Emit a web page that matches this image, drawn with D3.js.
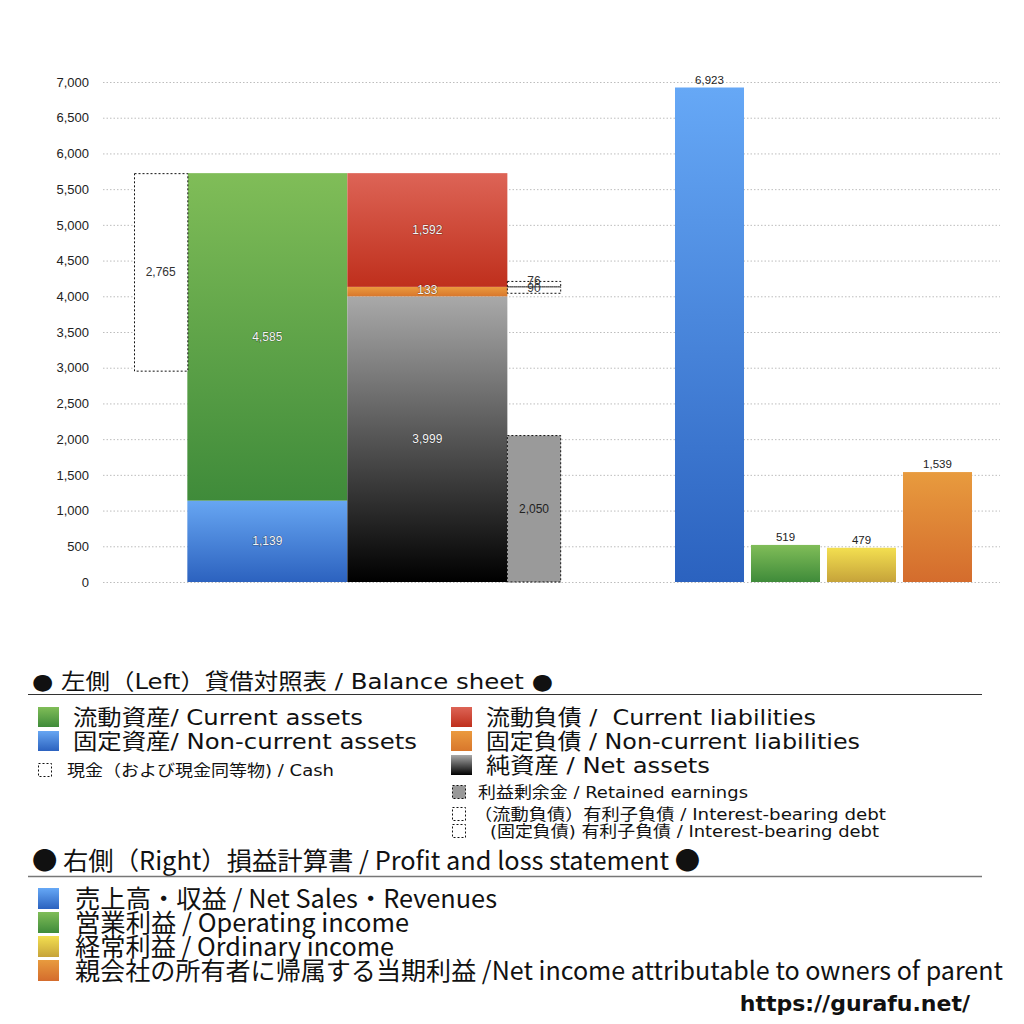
<!DOCTYPE html>
<html>
<head>
<meta charset="utf-8">
<script src="https://cdn.jsdelivr.net/npm/d3@7"></script>
<style>
  body { margin: 0; background: #fff; }
  svg text { font-family: "Noto Sans CJK JP", "Noto Sans", sans-serif; }
  svg text.wide { font-family: "DejaVu Sans", "Noto Sans CJK JP", sans-serif; }
</style>
</head>
<body>
<div id="chart"></div>
<script>
// Balance sheet (left side) values
var assetLabels = ["固定資産", "流動資産"];
var assetValues = [1139, 4585];
var liabLabels = ["純資産", "固定負債", "流動負債"];
var liabValues = [3999, 133, 1592];
var cashValue = 2765;
var retainedValue = 2050;
var debtLabels = ["固定負債 有利子負債", "流動負債 有利子負債"];
var debtValues = [90, 76];

// Profit and loss (right side)
var plLabels = ["売上高", "営業利益", "経常利益", "当期利益"];
var plValues = [6923, 519, 479, 1539];

var yTicks = [0, 500, 1000, 1500, 2000, 2500, 3000, 3500, 4000, 4500, 5000, 5500, 6000, 6500, 7000];

// svg size
var svgWidth = 1024;
var svgHeight = 1024;

var svg = d3.select("#chart")
  .append("svg")
  .attr("width", svgWidth)
  .attr("height", svgHeight);

// gradients
var defs = svg.append("defs");
function grad(id, top, bottom) {
  var g = defs.append("linearGradient").attr("id", id)
    .attr("x1", 0).attr("y1", 0).attr("x2", 0).attr("y2", 1);
  g.append("stop").attr("offset", "0%").attr("stop-color", top);
  g.append("stop").attr("offset", "100%").attr("stop-color", bottom);
}
grad("gGreen", "#80bd58", "#3f8b3a");
grad("gBlue", "#67a6f2", "#2c62bf");
grad("gRed", "#dd6456", "#bf2f1c");
grad("gOrange", "#eb9a3e", "#d8772c");
grad("gNet", "#a9a9a9", "#000000");
grad("gYellow", "#f3df50", "#c6a33a");
grad("gNetInc", "#e89b3e", "#d46c2d");
grad("gSales", "#66a8f6", "#2b62bf");

// scales
var yScale = d3.scaleLinear().domain([0, 7000]).range([582, 82]);
// left side in column units: cash [0,1], assets [1,4], liabilities [4,7], extra [7,8]
var xLeft = d3.scaleLinear().domain([0, 8]).range([134, 560.7]);
var xRight = d3.scaleBand().domain(plLabels).range([675, 972]).paddingInner(0.092).paddingOuter(0);

// grid + axis
var leftAxis = d3.axisLeft(yScale).tickValues(yTicks).tickFormat(d3.format(",")).tickSize(0).tickPadding(0);
var axisG = svg.append("g").attr("transform", "translate(89,0)").call(leftAxis);
axisG.select(".domain").remove();
axisG.selectAll("text").attr("font-size", 13).attr("fill", "#222")
  .style("font-family", "'Liberation Sans', Arial, sans-serif");

svg.append("g").selectAll("line")
  .data(yTicks)
  .enter()
  .append("line")
  .attr("x1", 103).attr("x2", 1000)
  .attr("y1", d => yScale(d) + 0.5).attr("y2", d => yScale(d) + 0.5)
  .attr("stroke", "#bdbdbd")
  .attr("stroke-dasharray", "1.5,2");

// stack helper
function stack(values) {
  var acc = 0;
  return values.map(function(v) {
    var s = { y0: acc, y1: acc + v, v: v };
    acc += v;
    return s;
  });
}

var assetFills = ["url(#gBlue)", "url(#gGreen)"];
var liabFills = ["url(#gNet)", "url(#gOrange)", "url(#gRed)"];
var assetStack = stack(assetValues);
var liabStack = stack(liabValues);
var totalAssets = d3.sum(assetValues);

var innerLabel = function(sel) {
  sel.attr("text-anchor", "middle")
    .attr("font-size", 12)
    .attr("fill", "#f5f5f5")
    .attr("stroke", "rgba(0,0,0,0.35)")
    .attr("stroke-width", 1.2)
    .attr("paint-order", "stroke")
    .style("font-family", "'Liberation Sans', Arial, sans-serif");
};

// assets column
var assetG = svg.append("g");
assetG.selectAll("rect")
  .data(assetStack)
  .enter()
  .append("rect")
  .attr("x", xLeft(1)).attr("width", xLeft(4) - xLeft(1))
  .attr("y", d => yScale(d.y1))
  .attr("height", d => yScale(d.y0) - yScale(d.y1))
  .attr("fill", (d, i) => assetFills[i]);
assetG.selectAll("text")
  .data(assetStack)
  .enter()
  .append("text")
  .attr("x", (xLeft(1) + xLeft(4)) / 2)
  .attr("y", d => yScale((d.y0 + d.y1) / 2) + 4)
  .text(d => d3.format(",")(d.v))
  .call(innerLabel);

// liabilities column
var liabG = svg.append("g");
liabG.selectAll("rect")
  .data(liabStack)
  .enter()
  .append("rect")
  .attr("x", xLeft(4)).attr("width", xLeft(7) - xLeft(4))
  .attr("y", d => yScale(d.y1))
  .attr("height", d => yScale(d.y0) - yScale(d.y1))
  .attr("fill", (d, i) => liabFills[i]);
liabG.selectAll("text")
  .data(liabStack)
  .enter()
  .append("text")
  .attr("x", (xLeft(4) + xLeft(7)) / 2)
  .attr("y", (d, i) => yScale((d.y0 + d.y1) / 2) + (i == 1 ? 2 : 4))
  .text(d => d3.format(",")(d.v))
  .call(innerLabel);

// cash box (hangs from top of assets)
var dashed = function(sel) {
  sel.attr("stroke", "#111").attr("stroke-width", 1).attr("stroke-dasharray", "2,2");
};
svg.append("rect")
  .attr("x", xLeft(0) + 0.5).attr("width", xLeft(1) - xLeft(0))
  .attr("y", yScale(totalAssets) + 0.5)
  .attr("height", yScale(totalAssets - cashValue) - yScale(totalAssets))
  .attr("fill", "#fff")
  .call(dashed);
svg.append("text")
  .attr("x", (xLeft(0) + xLeft(1)) / 2)
  .attr("y", yScale(totalAssets - cashValue / 2) + 4)
  .attr("text-anchor", "middle").attr("font-size", 12).attr("fill", "#333")
  .style("font-family", "'Liberation Sans', Arial, sans-serif")
  .text(d3.format(",")(cashValue));

// retained earnings
svg.append("rect")
  .attr("x", xLeft(7)).attr("width", xLeft(8) - xLeft(7))
  .attr("y", yScale(retainedValue))
  .attr("height", yScale(0) - yScale(retainedValue))
  .attr("fill", "#9a9a9a")
  .call(dashed);
svg.append("text")
  .attr("x", (xLeft(7) + xLeft(8)) / 2)
  .attr("y", yScale(retainedValue / 2) + 4)
  .attr("text-anchor", "middle").attr("font-size", 12).attr("fill", "#222")
  .style("font-family", "'Liberation Sans', Arial, sans-serif")
  .text(d3.format(",")(retainedValue));

// interest-bearing debt boxes, around the boundary of the current liabilities
var split = liabValues[0] + liabValues[1];
var debtBoxes = [
  { y0: split - debtValues[0], y1: split, v: debtValues[0] },
  { y0: split, y1: split + debtValues[1], v: debtValues[1] }
];
svg.append("g").selectAll("rect")
  .data(debtBoxes)
  .enter()
  .append("rect")
  .attr("x", xLeft(7)).attr("width", xLeft(8) - xLeft(7))
  .attr("y", d => yScale(d.y1))
  .attr("height", d => yScale(d.y0) - yScale(d.y1))
  .attr("fill", "none")
  .call(dashed);
svg.append("g").selectAll("text")
  .data(debtBoxes)
  .enter()
  .append("text")
  .attr("x", (xLeft(7) + xLeft(8)) / 2)
  .attr("y", (d, i) => yScale((d.y0 + d.y1) / 2) + (i == 0 ? 2 : 1))
  .attr("text-anchor", "middle").attr("font-size", 12).attr("fill", "#333")
  .style("font-family", "'Liberation Sans', Arial, sans-serif")
  .text(d => d.v);

// right side P&L bars
var plFills = ["url(#gSales)", "url(#gGreen)", "url(#gYellow)", "url(#gNetInc)"];
svg.append("g").selectAll("rect")
  .data(plValues)
  .enter()
  .append("rect")
  .attr("x", (d, i) => xRight(plLabels[i]))
  .attr("width", xRight.bandwidth())
  .attr("y", d => yScale(d))
  .attr("height", d => yScale(0) - yScale(d))
  .attr("fill", (d, i) => plFills[i]);
svg.append("g").selectAll("text")
  .data(plValues)
  .enter()
  .append("text")
  .attr("x", (d, i) => xRight(plLabels[i]) + xRight.bandwidth() / 2)
  .attr("y", d => yScale(d) - 4)
  .attr("text-anchor", "middle").attr("font-size", 11.5).attr("fill", "#222")
  .style("font-family", "'Liberation Sans', Arial, sans-serif")
  .text(d => d3.format(",")(d));

// ---- legend ----
var leg = svg.append("g");
// text fitted to a width, since the original font runs wider
function fitText(x, y, size, len, txt, cls) {
  return leg.append("text").attr("class", cls || null)
    .attr("x", x).attr("y", y).attr("font-size", size).attr("fill", "#111")
    .attr("xml:space", "preserve")
    .attr("textLength", len).attr("lengthAdjust", "spacingAndGlyphs")
    .text(txt);
}

fitText(32, 689, 22, 521, "● 左側（Left）貸借対照表 / Balance sheet ●", "wide");
leg.append("line").attr("x1", 28).attr("x2", 982).attr("y1", 694.5).attr("y2", 694.5)
  .attr("stroke", "#333").attr("stroke-width", 1);

var bigItems = [
  { x: 38, y: 707, fill: "url(#gGreen)", text: "流動資産/ Current assets", len: 290 },
  { x: 38, y: 731, fill: "url(#gBlue)", text: "固定資産/ Non-current assets", len: 344 },
  { x: 451, y: 707, fill: "url(#gRed)", text: "流動負債 /  Current liabilities", len: 330 },
  { x: 451, y: 731, fill: "url(#gOrange)", text: "固定負債 / Non-current liabilities", len: 374 },
  { x: 451, y: 755, fill: "url(#gNet)", text: "純資産 / Net assets", len: 224 }
];
bigItems.forEach(function(d) {
  leg.append("rect").attr("x", d.x).attr("y", d.y).attr("width", 21).attr("height", 20).attr("fill", d.fill);
  fitText(d.x + 35, d.y + 18, 22, d.len, d.text, "wide");
});

var smallItems = [
  { x: 38, y: 763, fill: "#fff", text: "現金（および現金同等物) / Cash", tx: 67, len: 267 },
  { x: 452, y: 785, fill: "#999", text: "利益剰余金 / Retained earnings", tx: 478, len: 270 },
  { x: 452, y: 807, fill: "#fff", text: "（流動負債）有利子負債 / Interest-bearing debt", tx: 474, len: 412 },
  { x: 452, y: 824, fill: "#fff", text: "(固定負債) 有利子負債 / Interest-bearing debt", tx: 490, len: 389 }
];
smallItems.forEach(function(d) {
  leg.append("rect").attr("x", d.x + 0.5).attr("y", d.y + 0.5).attr("width", 13).attr("height", 13)
    .attr("fill", d.fill).call(dashed);
  fitText(d.tx, d.y + 13, 16, d.len, d.text, "wide");
});

fitText(32, 870, 25, 668, "● 右側（Right）損益計算書 / Profit and loss statement ●");
leg.append("line").attr("x1", 28).attr("x2", 982).attr("y1", 876.5).attr("y2", 876.5)
  .attr("stroke", "#777").attr("stroke-width", 1.5);

var plLegend = [
  { fill: "url(#gSales)", text: "売上高・収益 / Net Sales・Revenues", len: 422 },
  { fill: "url(#gGreen)", text: "営業利益 / Operating income", len: 334 },
  { fill: "url(#gYellow)", text: "経常利益 / Ordinary income", len: 319 },
  { fill: "url(#gNetInc)", text: "親会社の所有者に帰属する当期利益 /Net income attributable to owners of parent", len: 928 }
];
plLegend.forEach(function(d, i) {
  var y = 888 + i * 24;
  leg.append("rect").attr("x", 38).attr("y", y).attr("width", 21).attr("height", 21).attr("fill", d.fill);
  fitText(75, y + 20, 25, d.len, d.text);
});

svg.append("text").attr("x", 970).attr("y", 1011).attr("text-anchor", "end")
  .attr("font-size", 22).attr("font-weight", "bold").attr("fill", "#111")
  .style("font-family", "'DejaVu Sans', sans-serif")
  .text("https://gurafu.net/");
</script>
</body>
</html>
